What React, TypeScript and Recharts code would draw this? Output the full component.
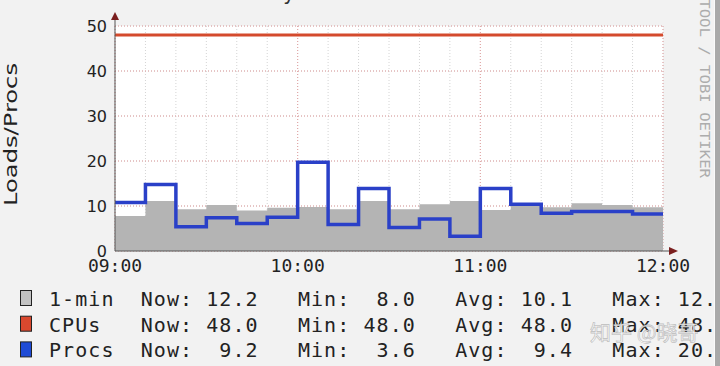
import React from 'react';
import { ComposedChart, Area, Line, XAxis, YAxis, CartesianGrid } from 'recharts';

// 10-minute samples, 09:00 -> 12:00
const MINUTES = [0, 10, 20, 30, 40, 50, 60, 70, 80, 90, 100, 110, 120, 130, 140, 150, 160, 170, 180];
const LOAD_1MIN = [7.8, 11.1, 9.3, 10.2, 9.0, 9.6, 9.8, 9.3, 11.1, 9.3, 10.4, 11.1, 9.1, 10.0, 9.7, 10.6, 10.2, 9.7];
const PROCS = [10.8, 14.8, 5.4, 7.4, 6.1, 7.5, 19.7, 5.9, 13.9, 5.2, 7.1, 3.3, 13.9, 10.4, 8.4, 8.8, 8.8, 8.2];
const CPUS = [48, 48, 48, 48, 48, 48, 48, 48, 48, 48, 48, 48, 48, 48, 48, 48, 48, 48];

const HOUR_TICKS = [0, 60, 120, 180];
const HOUR_LABELS = ['09:00', '10:00', '11:00', '12:00'];
const LOAD_TICKS = [0, 10, 20, 30, 40, 50];
const LOAD_MINOR_TICKS = [0, 5, 10, 15, 20, 25, 30, 35, 40, 45, 50];

const LEGEND_NAMES = ['1-min', 'CPUs', 'Procs'];
const LEGEND_COLORS = ['#c2c2c2', '#d9482e', '#1f4bd6'];
const LEGEND_NOW = [12.2, 48.0, 9.2];
const LEGEND_MIN = [8.0, 48.0, 3.6];
const LEGEND_AVG = [10.1, 48.0, 9.4];
const LEGEND_MAX = [12.2, 48.0, 20.0];

const last = LOAD_1MIN.length - 1;
const data = MINUTES.map((t, i) => {
  const k = Math.min(i, last); // hold the final step until 12:00
  return { t, load: LOAD_1MIN[k], procs: PROCS[k], cpus: CPUS[k] };
});

const fmt = (v: number) => v.toFixed(1).padStart(5);
const MONO = '"DejaVu Sans Mono", monospace';
const SANS = '"DejaVu Sans", sans-serif';

export default function App() {
  return (
    <div style={{ position: 'absolute', left: 0, top: 0, width: 720, height: 366, background: '#f2f2f2', overflow: 'hidden' }}>
      <ComposedChart
        width={720}
        height={366}
        data={data}
        margin={{ top: 26, right: 57, bottom: 85, left: 75 }}
      >
        <XAxis xAxisId="minor" dataKey="t" type="number" domain={[0, 180]} ticks={MINUTES} allowDataOverflow hide />
        <YAxis yAxisId="minor" type="number" domain={[0, 50]} ticks={LOAD_MINOR_TICKS} allowDataOverflow hide />
        <CartesianGrid
          xAxisId="minor"
          yAxisId="minor"
          fill="#ffffff"
          stroke="#d4d4d4"
          strokeDasharray="1 2"
        />
        <CartesianGrid stroke="#e3a0a0" strokeDasharray="1 2" />
        <XAxis
          dataKey="t"
          type="number"
          domain={[0, 180]}
          ticks={HOUR_TICKS}
          tickFormatter={(v: number) => HOUR_LABELS[HOUR_TICKS.indexOf(v)]}
          tick={{ fontFamily: MONO, fontSize: 18, fill: '#222' }}
          tickLine={false}
          axisLine={{ stroke: '#555', strokeWidth: 1 }}
          height={30}
          allowDataOverflow
        />
        <YAxis
          type="number"
          domain={[0, 50]}
          ticks={LOAD_TICKS}
          tick={{ fontFamily: SANS, fontSize: 16, fill: '#222' }}
          tickLine={false}
          axisLine={{ stroke: '#555', strokeWidth: 1 }}
          width={40}
          allowDataOverflow
        />
        <Area
          dataKey="load"
          type="stepAfter"
          fill="#b4b4b4"
          fillOpacity={1}
          stroke="none"
          isAnimationActive={false}
        />
        <Line
          dataKey="cpus"
          type="linear"
          stroke="#d44a2d"
          strokeWidth={3}
          dot={false}
          isAnimationActive={false}
        />
        <Line
          dataKey="procs"
          type="stepAfter"
          stroke="#2a40c8"
          strokeWidth={3.5}
          dot={false}
          isAnimationActive={false}
        />
      </ComposedChart>

      <svg width={720} height={366} style={{ position: 'absolute', left: 0, top: 0, pointerEvents: 'none' }}>
        {/* axis arrows */}
        <line x1={115} y1={26} x2={115} y2={18} stroke="#555" />
        <polygon points="111,20 119,20 115,12" fill="#7a1f1f" />
        <line x1={663} y1={251} x2={670} y2={251} stroke="#555" />
        <polygon points="669,247 669,255 678,251" fill="#7a1f1f" />

        {/* cut-off title */}
        <text x={283} y={0} fontFamily={MONO} fontSize={20} fill="#333">y</text>

        <text
          transform="translate(17,206) rotate(-90)"
          fontFamily={SANS}
          fontSize={17}
          fill="#222"
          textLength={143}
          lengthAdjust="spacingAndGlyphs"
        >
          Loads/Procs
        </text>

        {LEGEND_NAMES.map((name, i) => {
          const base = 306 + i * 25.7;
          const row = `${name.padEnd(7)}Now:${fmt(LEGEND_NOW[i])}   Min:${fmt(LEGEND_MIN[i])}   Avg:${fmt(LEGEND_AVG[i])}   Max:${fmt(LEGEND_MAX[i])}`;
          return (
            <g key={name}>
              <rect x={20.5} y={base - 15.5} width={11} height={15} fill={LEGEND_COLORS[i]} stroke="#222" strokeWidth={1} />
              <text
                x={49}
                y={base}
                fontFamily={MONO}
                fontSize={20}
                fill="#222"
                style={{ whiteSpace: 'pre', letterSpacing: '1.06px' }}
              >
                {row}
              </text>
            </g>
          );
        })}

        {/* watermark */}
        <text
          x={590}
          y={340}
          fontFamily='"Noto Sans CJK SC", sans-serif'
          fontSize={21}
          fill="rgba(255,255,255,0.9)"
          stroke="rgba(110,110,110,0.4)"
          strokeWidth={0.8}
        >
          知乎 @晓哥
        </text>

        <text
          transform="translate(700,-29) rotate(90)"
          fontFamily={MONO}
          fontSize={13.5}
          fill="#acacac"
          textLength={207}
          lengthAdjust="spacingAndGlyphs"
        >
          RRDTOOL / TOBI OETIKER
        </text>

        <rect x={714} y={0} width={1} height={366} fill="#fafafa" />
        <rect x={715} y={0} width={5} height={366} fill="#a9a9a9" />
      </svg>
    </div>
  );
}
